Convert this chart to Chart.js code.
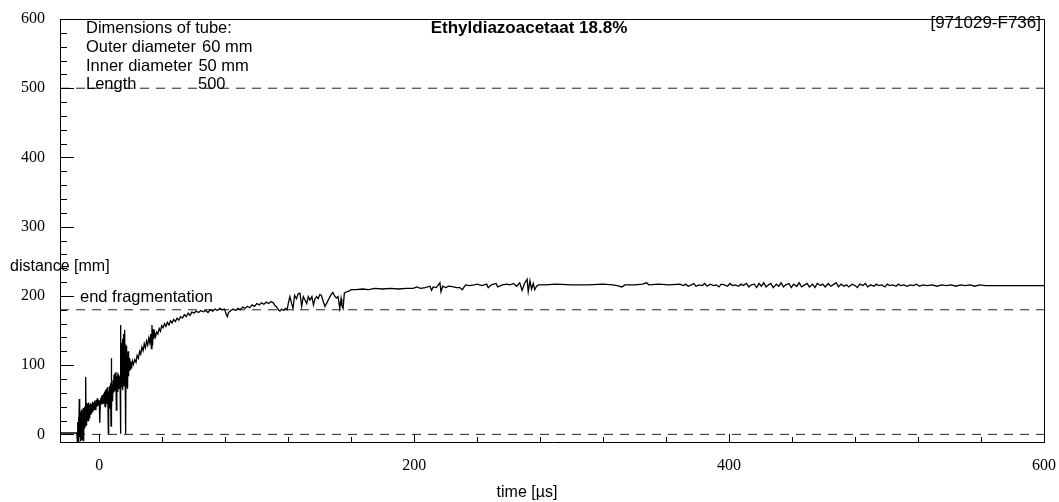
<!DOCTYPE html>
<html>
<head>
<meta charset="utf-8">
<script src="https://cdn.jsdelivr.net/npm/chart.js@4.4.1/dist/chart.umd.min.js"></script>
<style>
  html, body { margin: 0; padding: 0; background: #fff; }
</style>
</head>
<body>
<canvas id="tubeChart" width="1059" height="502"></canvas>
<script>
// distance [mm] against time [us]
const curve = [
  [-25, 2], [-14.3, 2], [-14.0, -10], [-13.75, 18], [-13.5, -6], [-13.25, 25], [-13.0, -10], [-12.75, 51],
  [-12.5, -4], [-12.25, 33], [-12.0, -10], [-11.75, 28], [-11.5, 2], [-11.25, 36], [-11.0, -8], [-10.75, 30],
  [-10.5, 5], [-10.25, 38], [-10.0, -10], [-9.75, 34], [-9.5, 8], [-9.25, 40], [-9.0, 12], [-8.8, 44],
  [-8.6, 83], [-8.4, 14], [-8.2, 40], [-8.0, 18], [-7.8, 45], [-7.6, 22], [-7.4, 42], [-7.2, 20],
  [-7.0, 46], [-6.8, 26], [-6.6, 40], [-6.4, 24], [-6.1, 43], [-5.8, 29], [-5.5, 45], [-5.2, 31],
  [-4.9, 44], [-4.6, 33], [-4.3, 47], [-4.0, 35], [-3.7, 46], [-3.4, 36], [-3.1, 49], [-2.8, 38],
  [-2.5, 47], [-2.2, 35], [-1.9, 50], [-1.6, 40], [-1.3, 52], [-1.0, 41], [-0.7, 50], [-0.4, 43],
  [-0.1, 49], [0.2, 40], [0.35, 17], [0.6, 46], [0.9, 53], [1.2, 44], [1.5, 56], [1.8, 45],
  [2.1, 57], [2.4, 47], [2.7, 59], [3.0, 45], [3.3, 62], [3.6, 40], [3.9, 64], [4.2, 48],
  [4.5, 66], [4.8, 44], [5.1, 68], [5.4, 50], [5.7, 1], [5.9, 62], [6.2, 38], [6.5, 70],
  [6.8, 42], [7.1, 74], [7.4, 12], [7.6, 110], [7.8, 36], [8.1, 72], [8.4, 48], [8.7, 78],
  [9.0, 60], [9.3, 86], [9.6, 62], [9.9, 88], [10.2, 64], [10.5, 90], [10.8, 35], [11.1, 84],
  [11.4, 62], [11.7, 89], [12.0, 66], [12.3, 86], [12.6, 68], [12.9, 84], [13.2, 70], [13.4, 1],
  [13.5, 158], [13.7, 92], [13.9, 132], [14.1, 68], [14.3, 125], [14.5, 72], [14.7, 138], [14.9, 64],
  [15.1, 128], [15.3, 78], [15.5, 145], [15.7, 70], [15.9, 136], [16.1, 82], [16.2, 151], [16.4, 88],
  [16.6, 130], [16.8, 1], [17.0, 128], [17.2, 80], [17.4, 118], [17.6, 72], [17.8, 112], [18.0, 66],
  [18.2, 120], [18.4, 84], [18.6, 114], [18.8, 88], [19.0, 110], [19.2, 92], [19.4, 108], [19.6, 94],
  [19.8, 106], [20.1, 96], [20.4, 104], [20.7, 98], [21.0, 106], [21.6, 101],
  [22.5, 108], [23.3, 104], [24.0, 114], [24.8, 110], [25.6, 120], [26.3, 116], [27.0, 126], [27.8, 121],
  [28.5, 131], [29.2, 125], [30.0, 135], [30.7, 129], [31.4, 139], [32.0, 133], [32.6, 145], [33.0, 124],
  [33.4, 158], [33.8, 128], [34.2, 152], [34.6, 138], [35.1, 147], [35.7, 141], [36.4, 148], [37.2, 145],
  [38.0, 153], [38.8, 149], [39.6, 157], [40.5, 154], [41.4, 160], [42.3, 156], [43.2, 162], [44.2, 158],
  [45.2, 164], [46.2, 161], [47.2, 166], [48.3, 163], [49.4, 168], [50.5, 165], [51.6, 170], [52.8, 168],
  [54.0, 173], [55.2, 170], [56.4, 175], [57.6, 172], [58.8, 177], [60.0, 175], [61.5, 178], [63.0, 176],
  [64.5, 179], [66.0, 177], [67.5, 179], [69.0, 176], [70.5, 180], [72.0, 178], [73.5, 181], [75.0, 179],
  [76.6, 182], [78.0, 180], [79.5, 181], [80.6, 173], [81.3, 170], [82.0, 176], [83.5, 179], [85.0, 181],
  [86.5, 179], [88.0, 182], [89.5, 180], [91.0, 184], [92.5, 182], [94.0, 185], [95.5, 183], [97.0, 187],
  [98.5, 185], [100.0, 189], [101.5, 187], [103.0, 190], [104.5, 188], [106.0, 191], [107.5, 189], [109.0, 192],
  [110.5, 190], [111.5, 186], [112.6, 184], [113.7, 180], [114.7, 178], [115.8, 181], [117.0, 179], [118.2, 182],
  [119.2, 180], [120.2, 191], [121.0, 199], [122.0, 190], [123.0, 182], [124.0, 201], [125.2, 196], [126.3, 203],
  [127.4, 204], [128.5, 185], [129.5, 199], [130.6, 194], [131.7, 189], [132.7, 199], [133.8, 194], [135.0, 199],
  [136.0, 187], [137.0, 196], [138.0, 199], [139.0, 196], [140.0, 202], [141.0, 201], [142.2, 192], [143.3, 185],
  [144.5, 190], [145.4, 194], [146.5, 199], [147.5, 203], [148.3, 205], [149.4, 200], [150.6, 197], [151.6, 199],
  [152.7, 182], [153.5, 196], [154.0, 186], [154.8, 182], [155.6, 204], [156.9, 206], [158.5, 207], [160, 209],
  [163, 209], [167, 210], [171, 209], [175, 211], [180, 210], [185, 211], [190, 210], [195, 211],
  [199.4, 211], [201.5, 213], [204, 211], [207, 212], [210, 214], [211, 208], [212, 213], [214, 212],
  [216.3, 219], [217, 206], [218, 214], [220, 212], [222, 214], [225, 213], [227, 212], [229, 212],
  [230.5, 209], [232.6, 216], [235, 215], [238, 216], [240, 217], [243, 215], [246, 217], [247, 212],
  [249, 216], [252, 218], [253, 213], [256, 216], [259, 217], [261, 216], [263, 218], [265, 214],
  [267, 219], [268.5, 208], [270, 218], [271.7, 224], [272.4, 206], [273.5, 222], [274.5, 210], [275.6, 218],
  [276.5, 209], [277.7, 214], [279, 216], [283, 216], [290, 217], [300, 216], [310, 216], [320, 217],
  [326, 216], [329, 215], [331.7, 213], [334, 216], [340, 216], [345, 217], [347.6, 219], [349, 216],
  [355, 217], [362, 216], [368.7, 217],
  [371, 215], [372.5, 217], [374, 214], [376, 216], [377.5, 218], [379, 214], [381, 216], [383, 215],
  [384.5, 218], [386, 214], [388, 217], [390, 215], [392, 216], [393.5, 213], [395, 217], [397, 216],
  [399, 214], [400.5, 218], [402, 215], [404, 216], [406, 214], [407.5, 217], [409, 215], [411, 218],
  [412.5, 213], [414, 216], [416, 217], [417.5, 212], [419, 218], [420.5, 214], [422, 219], [423.5, 213],
  [425, 216], [426.5, 218], [428, 212], [430, 217], [431.5, 214], [433, 219], [434.5, 213], [436, 216],
  [438, 218], [439.5, 212], [441, 217], [443, 214], [444.5, 219], [446, 213], [448, 216], [449.5, 218],
  [451, 213], [453, 217], [454.5, 212], [456, 218], [458, 215], [459.5, 217], [461, 213], [463, 218],
  [464.5, 214], [466, 216], [468, 219], [469.5, 213], [471, 217], [473, 214], [474.5, 216], [476, 213],
  [478, 217], [480, 215], [481.5, 212], [483, 217], [485, 215], [486.5, 218], [488, 213], [490, 216],
  [492, 214], [493.5, 217], [495, 215], [497, 216], [499, 213], [500.5, 217], [502, 215], [504, 216],
  [506, 214], [507.5, 217], [509, 215], [511, 216], [513, 214], [515, 216], [517, 215], [519, 217],
  [521, 214], [523, 216], [526, 215], [529, 216], [532, 214], [535, 216], [538, 215], [541, 216],
  [544, 214], [547, 216], [550, 215], [553, 216], [556, 214], [559, 216], [563, 215], [570, 215],
  [580, 215], [590, 215], [600, 215]
];

// dashed reference levels: tube length, end of fragmentation, zero
const refLevels = [500, 180, 0];

const xRange = [-25, 600];
const yRange = [-11, 600];
const xTickValues = [0, 200, 400, 600];
const yTickValues = [0, 100, 200, 300, 400, 500, 600];

const tubeInfo = [
  ['Dimensions of tube:', ''],
  ['Outer diameter', '60 mm'],
  ['Inner diameter', '50 mm'],
  ['Length', '500']
];
const chartTitle = 'Ethyldiazoacetaat 18.8%';
const runId = '[971029-F736]';

// box, inward tick marks and the free text
const framePlugin = {
  id: 'framePlugin',
  afterDraw(chart) {
    const { ctx, chartArea: a, scales } = chart;
    const x = scales.x, y = scales.y;
    ctx.save();
    ctx.strokeStyle = '#000';
    ctx.lineWidth = 1;

    ctx.beginPath();
    ctx.moveTo(a.left, Math.round(a.top) + 0.5);
    ctx.lineTo(Math.round(a.right) + 0.5, Math.round(a.top) + 0.5);
    ctx.lineTo(Math.round(a.right) + 0.5, a.bottom);
    ctx.stroke();

    ctx.beginPath();
    for (let v = 0; v <= 600; v += 20) {
      const py = Math.round(y.getPixelForValue(v)) + 0.5;
      const len = v % 100 === 0 ? 14 : 7;
      ctx.moveTo(a.left, py);
      ctx.lineTo(a.left + len, py);
    }
    for (let t = 0; t <= 600; t += 40) {
      const px = Math.round(x.getPixelForValue(t)) + 0.5;
      const len = t % 200 === 0 ? 8 : 5;
      ctx.moveTo(px, a.bottom);
      ctx.lineTo(px, a.bottom - len);
    }
    ctx.stroke();

    ctx.fillStyle = '#000';
    ctx.textBaseline = 'alphabetic';
    ctx.textAlign = 'left';
    ctx.font = '16.5px "Liberation Sans", Arial, sans-serif';
    const rowBase = [33, 52, 70.5, 88.5];
    tubeInfo.forEach((row, i) => {
      ctx.fillText(row[0], a.left + 26, rowBase[i]);
      if (row[1]) {
        const after = a.left + 26 + ctx.measureText(row[0]).width + 6;
        ctx.fillText(row[1], Math.max(after, a.left + (i === 3 ? 138 : 132)), rowBase[i]);
      }
    });

    ctx.font = 'bold 17px "Liberation Sans", Arial, sans-serif';
    ctx.textAlign = 'center';
    ctx.fillText(chartTitle, 529, 33);

    ctx.font = '17px "Liberation Sans", Arial, sans-serif';
    ctx.textAlign = 'right';
    ctx.fillText(runId, a.right - 3, 27.5);

    ctx.font = '16px "Liberation Sans", Arial, sans-serif';
    ctx.textAlign = 'left';
    ctx.fillText('distance [mm]', 10, 271);
    ctx.font = '16.5px "Liberation Sans", Arial, sans-serif';
    ctx.fillText('end fragmentation', 80, 302);
    ctx.font = '16px "Liberation Sans", Arial, sans-serif';
    ctx.textAlign = 'center';
    ctx.fillText('time [µs]', 527, 497);
    ctx.restore();
  }
};

const datasets = [{
  data: curve.map(p => ({ x: p[0], y: p[1] })),
  borderColor: '#000',
  borderWidth: 1.3,
  pointRadius: 0,
  tension: 0,
  fill: false
}];
refLevels.forEach(level => {
  datasets.push({
    data: [{ x: xRange[0], y: level }, { x: xRange[1], y: level }],
    borderColor: '#222',
    borderWidth: 1,
    borderDash: [9, 7],
    pointRadius: 0,
    fill: false
  });
});

new Chart(document.getElementById('tubeChart').getContext('2d'), {
  type: 'line',
  data: { datasets: datasets },
  options: {
    responsive: false,
    animation: false,
    layout: { padding: { top: 19, right: 15, left: 0, bottom: 0 } },
    plugins: { legend: { display: false }, tooltip: { enabled: false } },
    scales: {
      x: {
        type: 'linear',
        min: xRange[0],
        max: xRange[1],
        afterBuildTicks: s => { s.ticks = xTickValues.map(v => ({ value: v })); },
        afterFit: s => { s.height = 60; s.paddingLeft = 0; s.paddingRight = 0; },
        grid: { display: false, drawTicks: false },
        border: { display: true, color: '#000', width: 1 },
        ticks: {
          color: '#000',
          padding: 14,
          maxRotation: 0,
          font: { family: '"Liberation Serif", serif', size: 16 }
        }
      },
      y: {
        type: 'linear',
        min: yRange[0],
        max: yRange[1],
        afterBuildTicks: s => { s.ticks = yTickValues.map(v => ({ value: v })); },
        afterFit: s => { s.width = 60; s.paddingTop = 0; s.paddingBottom = 0; },
        grid: { display: false, drawTicks: false },
        border: { display: true, color: '#000', width: 1 },
        ticks: {
          color: '#000',
          padding: 15,
          font: { family: '"Liberation Serif", serif', size: 16 }
        }
      }
    }
  },
  plugins: [framePlugin]
});
</script>
</body>
</html>
